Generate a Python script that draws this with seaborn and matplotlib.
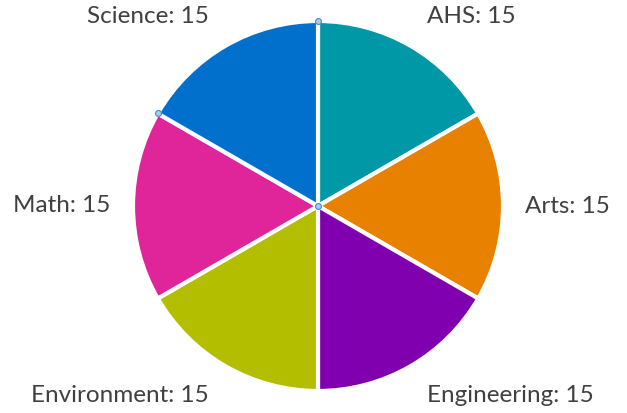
import numpy as np
import matplotlib
matplotlib.use("Agg")
import matplotlib.pyplot as plt
import seaborn as sns

# Enrollment share by school
schools = ["AHS", "Arts", "Engineering", "Environment", "Math", "Science"]
counts = [15, 15, 15, 15, 15, 15]
colors = ["#0098A6", "#E88000", "#8000B0", "#B4BE00", "#E0249A", "#0070CC"]

sns.set_theme(style="white")
plt.rcParams["font.family"] = ["Lato", "DejaVu Sans"]

fig = plt.figure(figsize=(6.27, 4.13), dpi=100)
W, H = 627, 413
cx, cy, r = 318, 207, 185
ax = fig.add_axes([(cx - r) / W, (cy - r) / H, 2 * r / W, 2 * r / H])

wedges, _ = ax.pie(
    counts,
    colors=colors,
    startangle=90,
    counterclock=False,
    radius=1.0,
    wedgeprops=dict(edgecolor="white", linewidth=3),
)

# Category labels placed just outside each slice
for w, name, val in zip(wedges, schools, counts):
    mid = np.deg2rad((w.theta1 + w.theta2) / 2)
    x, y = np.cos(mid), np.sin(mid)
    d = 1.12 if abs(y) < 0.1 else 1.18
    ha = "left" if x > 0.01 else "right"
    ax.text(d * x, d * y, f"{name}: {val}", ha=ha, va="center",
            fontsize=17.5, color="#404040")

# Selection handles on the Science slice
sci = wedges[schools.index("Science")]
pts = [(0, 0)]
for t in (sci.theta1, sci.theta2):
    pts.append((np.cos(np.deg2rad(t)), np.sin(np.deg2rad(t))))
px, py = zip(*pts)
ax.scatter(px, py, s=18, facecolor="#A9CDEF", edgecolor="#3C8CDB",
           linewidth=0.8, zorder=5, clip_on=False)

ax.set_xlim(-1, 1)
ax.set_ylim(-1, 1)
ax.set_aspect("equal")
ax.axis("off")

fig.savefig("out.png", dpi=100)
